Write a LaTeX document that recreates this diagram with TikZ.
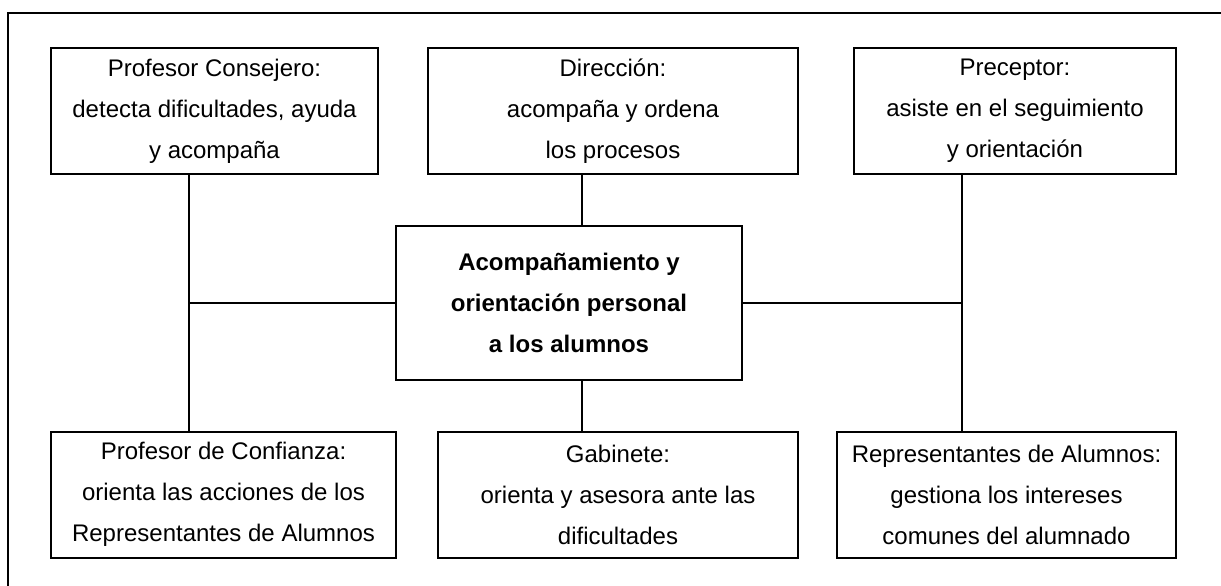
\documentclass[tikz,border=0pt]{standalone}
\usepackage{fontspec}
\setmainfont{Liberation Sans}
\usepackage{tikz}

\begin{document}
\begin{tikzpicture}[x=1pt, y=-1pt, line width=2pt,
    caja/.style={draw, rectangle, align=center, inner sep=0pt,
        minimum height=126pt, font=\fontsize{24}{41}\selectfont},
    central/.style={caja, minimum height=154pt,
        font=\bfseries\fontsize{24}{41}\selectfont}]

    \useasboundingbox (0,0) rectangle (1221,586);

    % marco
    \draw[line width=2.5pt] (8,586) -- (8,13) -- (1221,13);

    % fila superior
    \node[caja, minimum width=327pt] (consejero) at (214.5,111)
        {Profesor Consejero:\\detecta dificultades, ayuda\\y acompaña};
    \node[caja, minimum width=370pt] (direccion) at (613,111)
        {Dirección:\\acompaña y ordena\\los procesos};
    \node[caja, minimum width=322pt] (preceptor) at (1015,111)
        {Preceptor:\\asiste en el seguimiento\\y orientación};

    % centro
    \node[central, minimum width=346pt] (centro) at (569,303)
        {Acompañamiento y\\orientación personal\\a los alumnos};

    % fila inferior
    \node[caja, minimum width=345pt] (confianza) at (223.5,494.5)
        {Profesor de Confianza:\\orienta las acciones de los\\Representantes de Alumnos};
    \node[caja, minimum width=360pt] (gabinete) at (618,494.5)
        {Gabinete:\\orienta y asesora ante las\\dificultades};
    \node[caja, minimum width=339pt] (representantes) at (1006.5,494.5)
        {Representantes de Alumnos:\\gestiona los intereses\\comunes del alumnado};

    % lineas
    \coordinate (izq) at (189,303);
    \coordinate (der) at (962,303);
    \coordinate (eje) at (582,303);
    \draw (izq |- consejero.south) -- (izq |- confianza.north);
    \draw (der |- preceptor.south) -- (der |- representantes.north);
    \draw (izq) -- (centro.west);
    \draw (centro.east) -- (der);
    \draw (eje |- direccion.south) -- (eje |- centro.north);
    \draw (eje |- centro.south) -- (eje |- gabinete.north);

\end{tikzpicture}
\end{document}
